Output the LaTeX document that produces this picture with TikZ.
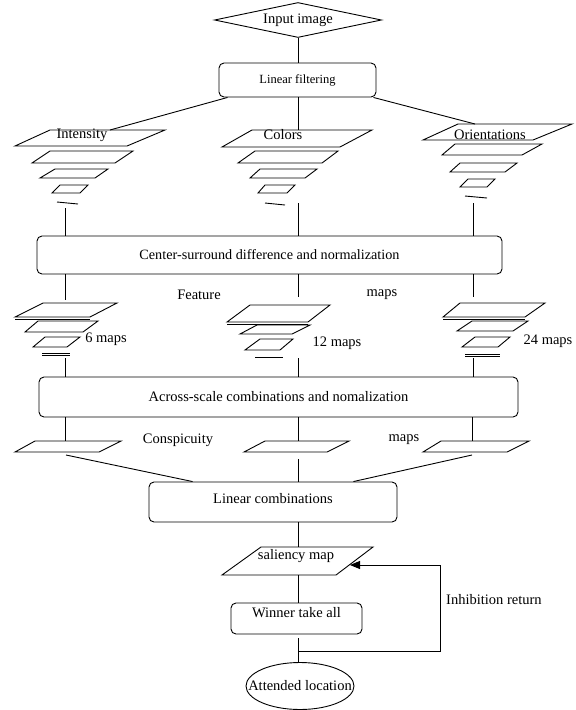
\documentclass[tikz,border=0pt]{standalone}
\usepackage{fontspec}
\setmainfont{Liberation Serif}
\usetikzlibrary{shapes.geometric,arrows.meta}
\newcommand{\fs}{\fontsize{14.5}{16}\selectfont}
\tikzset{
  ln/.style={line width=0.9pt, draw=black},
  rbox/.style={draw, line width=0.9pt, rounded corners=5pt, inner sep=0pt, font=\fs},
  lbl/.style={inner sep=0pt, font=\fs},
}
% name, top-left x, top-right x, top y, bottom-left x, bottom-right x, bottom y
\newcommand{\pgm}[7]{%
  \draw[ln] (#2,#4) -- (#3,#4) -- (#6,#7) -- (#5,#7) -- cycle;
  \coordinate (#1) at ({(#2+#6)/2},{(#4+#7)/2});}
\begin{document}
\begin{tikzpicture}[x=1pt,y=-1pt]
\useasboundingbox (0,0) rectangle (576,710);
% column axes
\coordinate (colI) at (65,0);
\coordinate (colC) at (298,0);
\coordinate (colO) at (473,0);

% main nodes
\node[draw, diamond, line width=0.9pt, minimum width=167pt, minimum height=35pt,
      aspect=4.8, inner sep=0pt, font=\fs] (in) at (298,20) {Input image};
\node[rbox, minimum width=157pt, minimum height=34pt,
      font=\fontsize{12.5}{14}\selectfont] (lf) at (297.5,80) {Linear filtering};
\node[rbox, minimum width=465pt, minimum height=38pt,
      font=\fontsize{14.2}{16}\selectfont] (csd) at (269.5,255) {Center-surround difference and normalization};
\node[rbox, minimum width=479pt, minimum height=40pt] (acr) at (278.5,397) {Across-scale combinations and nomalization};
\node[rbox, minimum width=248pt, minimum height=40pt, text height=10pt, text depth=8pt] (lc) at (273,502) {Linear combinations};
\node[rbox, minimum width=131pt, minimum height=31pt, text height=10pt, text depth=13pt] (wta) at (296.5,618.5) {Winner take all};
\node[draw, ellipse, line width=0.9pt, minimum width=108pt, minimum height=47pt,
      inner sep=0pt, font=\fs] (att) at (300,686) {\makebox[0pt]{Attended location}};

% pyramid stacks (top)
\pgm{I1}{50}{165}{130}{15}{127}{146}
\pgm{I2}{50}{133}{151}{32}{115}{163}
\pgm{I3}{55}{108}{169}{40}{95}{178}
\pgm{I4}{60}{88}{185}{52}{80}{193}
\coordinate (Id1) at (57,202); \coordinate (Id2) at (78,204);
\draw[ln] (Id1) -- (Id2);

\pgm{C1}{252}{372}{130}{222}{340}{147}
\pgm{C2}{255}{338}{151}{238}{322}{163}
\pgm{C3}{260}{317}{169}{250}{305}{178}
\pgm{C4}{265}{295}{185}{258}{287}{193}
\coordinate (Cd1) at (265,203); \coordinate (Cd2) at (285,205);
\draw[ln] (Cd1) -- (Cd2);

\pgm{O1}{458}{572}{124}{423}{533}{140}
\pgm{O2}{455}{542}{144}{442}{522}{155}
\pgm{O3}{460}{517}{163}{450}{505}{172}
\pgm{O4}{468}{495}{179}{460}{487}{187}
\coordinate (Od1) at (465,196); \coordinate (Od2) at (487,198);
\draw[ln] (Od1) -- (Od2);

\node[lbl] (tInt) at (82,135) {Intensity};
\node[lbl] (tCol) at (283,135) {Colors};
\node[lbl] (tOri) at (490,135) {Orientations};

% feature map stacks
\pgm{FI1}{43}{117}{303}{15}{90}{317}
\draw[ln] (15,319) -- (90,319);
\pgm{FI2}{38}{98}{321}{25}{83}{332}
\pgm{FI3}{45}{80}{337}{33}{67}{347}
\draw[ln] (42,353) -- (70,353);
\draw[ln] (42,355.5) -- (70,355.5);

\pgm{FC1}{250}{330}{305}{227}{308}{322}
\draw[ln] (227,324) -- (308,324);
\pgm{FC2}{257}{310}{325}{240}{292}{334}
\pgm{FC3}{260}{293}{339}{245}{280}{350}
\draw[ln] (255,357) -- (283,357);

\pgm{FO1}{460}{545}{303}{443}{525}{317}
\draw[ln] (443,319) -- (525,319);
\pgm{FO2}{472}{528}{321}{457}{513}{331}
\pgm{FO3}{475}{510}{337}{462}{498}{347}
\draw[ln] (465,354) -- (500,354);
\draw[ln] (465,356.5) -- (500,356.5);

\node[lbl] (tFeat) at (199,295) {Feature};
\node[lbl] (tFmaps) at (382,295) {maps};
\node[lbl] (t6) at (106,339) {6 maps};
\node[lbl] (t12) at (337,343) {12 maps};
\node[lbl] (t24) at (548,341) {24 maps};

% conspicuity maps
\pgm{K1}{35}{121}{441}{15}{99}{452}
\pgm{K2}{265}{349}{441}{244}{327}{452}
\pgm{K3}{441}{529}{441}{423}{507}{452}
\node[lbl] (tCon) at (178,440) {Conspicuity};
\node[lbl] (tCmaps) at (404,440) {maps};

% saliency map
\pgm{sal}{261}{373}{547}{222}{336}{575}
\node[lbl] (tSal) at (296,556) {saliency map};

% connector end points
\coordinate (I1top) at (110,130);
\coordinate (C1top) at (298,130);
\coordinate (O1top) at (475,124);
\coordinate (vI1) at (65,208);
\coordinate (vC1) at (298,203);
\coordinate (vO1) at (473,203);
\coordinate (vI2) at (65,300);
\coordinate (vC2) at (298,297);
\coordinate (vO2) at (473,297);
\coordinate (vI3) at (65,358);
\coordinate (vC3) at (298,358);
\coordinate (vO3) at (473,358);
\coordinate (K1top) at (65,441);
\coordinate (K2top) at (298,441);
\coordinate (K3top) at (472,441);
\coordinate (K1bot) at (66,455);
\coordinate (K2bot) at (298,459);
\coordinate (K3bot) at (472,455);
\coordinate (salTop) at (298,547);
\coordinate (salBot) at (298,575);
\coordinate (salR) at (350,565);
\coordinate (wtaOut) at (298,638);
\coordinate (jn) at (298,651);
\coordinate (lp1) at (440,651);
\coordinate (lp2) at (440,565);

% connectors
\draw[ln] (in.south) -- (lf.north -| in.south);
\draw[ln] ([xshift=9pt]lf.south west) -- (I1top);
\draw[ln] (lf.south -| colC) -- (C1top);
\draw[ln] ([xshift=-3pt]lf.south east) -- (O1top);

\draw[ln] (vI1) -- (csd.north -| colI);
\draw[ln] (vC1) -- (csd.north -| colC);
\draw[ln] (vO1) -- (csd.north -| colO);

\draw[ln] (csd.south -| colI) -- (vI2);
\draw[ln] (csd.south -| colC) -- (vC2);
\draw[ln] (csd.south -| colO) -- (vO2);

\draw[ln] (vI3) -- (acr.north -| colI);
\draw[ln] (vC3) -- (acr.north -| colC);
\draw[ln] (vO3) -- (acr.north -| colO);

\draw[ln] (acr.south -| colI) -- (K1top);
\draw[ln] (acr.south -| colC) -- (K2top);
\draw[ln] (acr.south -| K3top) -- (K3top);

\draw[ln] (K1bot) -- ([xshift=44pt]lc.north west);
\draw[ln] (K2bot) -- (lc.north -| colC);
\draw[ln] (K3bot) -- ([xshift=-44pt]lc.north east);

\draw[ln] (lc.south -| colC) -- (salTop);
\draw[ln] (salBot) -- (wta.north -| colC);
\draw[ln] (wtaOut) -- (att.north -| colC);

\draw[ln, -{Triangle[length=10pt,width=8pt]}] (jn) -- (lp1) -- (lp2) -- (salR);
\node[lbl, anchor=west] (tInh) at (446,600) {Inhibition return};
\end{tikzpicture}
\end{document}
